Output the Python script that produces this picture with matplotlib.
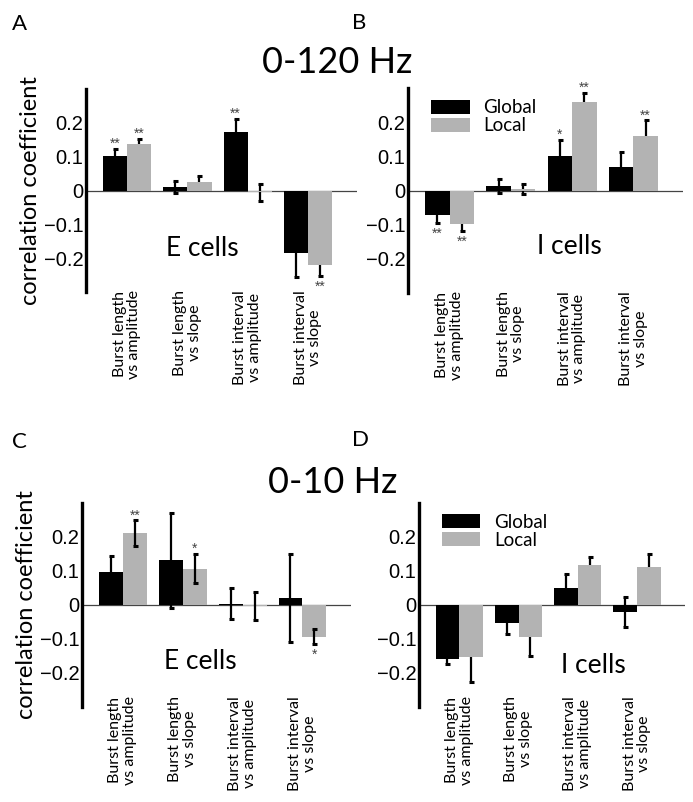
"""Burst feature correlations, global vs local (0-120 Hz and 0-10 Hz)."""

import matplotlib
matplotlib.use("Agg")
import matplotlib.pyplot as plt
import numpy as np

CATEGORIES = ["Burst length\nvs amplitude", "Burst length\nvs slope",
              "Burst interval\nvs amplitude", "Burst interval\nvs slope"]
SERIES = ["Global", "Local"]

# 0-120 Hz, E cells
A_global = [0.101, 0.010, 0.172, -0.186]
A_global_err = [0.022, 0.017, 0.040, 0.070]
A_local = [0.138, 0.026, -0.005, -0.220]
A_local_err = [0.015, 0.016, 0.025, 0.034]
A_global_sig = ["**", "", "**", ""]
A_local_sig = ["**", "", "", "**"]

# 0-120 Hz, I cells
B_global = [-0.071, 0.014, 0.101, 0.069]
B_global_err = [0.025, 0.021, 0.048, 0.043]
B_local = [-0.099, 0.005, 0.259, 0.159]
B_local_err = [0.020, 0.015, 0.027, 0.046]
B_global_sig = ["**", "", "*", ""]
B_local_sig = ["**", "", "**", "**"]

# 0-10 Hz, E cells
C_global = [0.097, 0.131, 0.004, 0.020]
C_global_err = [0.048, 0.141, 0.046, 0.130]
C_local = [0.212, 0.107, -0.003, -0.094]
C_local_err = [0.037, 0.043, 0.041, 0.022]
C_global_sig = ["", "", "", ""]
C_local_sig = ["**", "*", "", "*"]

# 0-10 Hz, I cells
D_global = [-0.158, -0.054, 0.049, -0.020]
D_global_err = [0.015, 0.031, 0.042, 0.044]
D_local = [-0.153, -0.093, 0.117, 0.111]
D_local_err = [0.074, 0.058, 0.023, 0.040]
D_global_sig = ["", "", "", ""]
D_local_sig = ["", "", "", ""]

YTICKS = [-0.2, -0.1, 0, 0.1, 0.2]
YTICKLABELS = ["\u22120.2", "\u22120.1", "0", "0.1", "0.2"]

W, H = 693, 802
SANS = ["Lato", "DejaVu Sans"]
COLORS = ["#000000", "#b3b3b3"]


def px_axes(fig, left, top, right, bottom):
    return fig.add_axes([left / W, 1 - bottom / H, (right - left) / W, (bottom - top) / H])


def panel(ax, glob, glob_err, loc, loc_err, gsig, lsig, cells, cell_xy,
          ylabel=False, legend=None, err_on_top=False, xpad=-1.5):
    x = np.arange(1, len(CATEGORIES) + 1)
    w = 0.4
    ax.axhline(0, color="#444444", lw=0.9, zorder=1)
    ez = 4 if err_on_top else 2
    for i, (vals, errs, sig) in enumerate([(glob, glob_err, gsig), (loc, loc_err, lsig)]):
        xs = x + (i - 0.5) * w
        ax.bar(xs, vals, width=w, color=COLORS[i], label=SERIES[i], zorder=3)
        ax.errorbar(xs, vals, yerr=errs, fmt="none", ecolor="black",
                    elinewidth=1.6, capsize=1.8, capthick=2.2, zorder=ez)
        for xi, v, e, s in zip(xs, vals, errs, sig):
            if not s:
                continue
            dy = 3.5 if v >= 0 else -7.5
            ax.annotate(s, (xi, v + e if v >= 0 else v - e), xytext=(0, dy),
                        textcoords="offset points", ha="center", va="center",
                        fontsize=10, color="#444444", family=["Liberation Sans"])

    ax.set_xlim(0.32, 4.81)
    ax.set_ylim(-0.3, 0.3)
    for s in ("top", "right", "bottom"):
        ax.spines[s].set_visible(False)
    ax.spines["left"].set_linewidth(2.4)
    ax.set_yticks(YTICKS)
    ax.set_yticklabels(YTICKLABELS, family=["Liberation Sans"], fontsize=14.5)
    ax.tick_params(axis="y", length=0, pad=2)
    ax.set_xticks(x)
    ax.set_xticklabels(CATEGORIES, rotation=90, fontsize=11.5, family=SANS,
                       ha="center", va="top", multialignment="center")
    for lbl in ax.get_xticklabels():
        lbl.set_linespacing(1.05)
    ax.tick_params(axis="x", length=0, pad=xpad)
    ax.text(cell_xy[0], cell_xy[1], cells, ha="center", va="baseline",
            fontsize=19, family=SANS)
    if ylabel:
        ax.set_ylabel("correlation coefficient", fontsize=17, family=SANS, labelpad=2)
    if legend is not None:
        ax.legend(loc="upper left", bbox_to_anchor=legend, frameon=False,
                  prop={"family": SANS, "size": 13.5},
                  handlelength=2.05, handleheight=0.8, handletextpad=0.75,
                  labelspacing=0.05, borderpad=0, borderaxespad=0)


def main():
    fig = plt.figure(figsize=(W / 100, H / 100), dpi=100)

    axA = px_axes(fig, 86, 89, 357, 292)
    panel(axA, A_global, A_global_err, A_local, A_local_err, A_global_sig, A_local_sig,
          "E cells", (2.24, -0.194), ylabel=True)
    axB = px_axes(fig, 408, 88, 683, 293)
    panel(axB, B_global, B_global_err, B_local, B_local_err, B_global_sig, B_local_sig,
          "I cells", (2.96, -0.185), legend=(0.084, 0.944))
    axC = px_axes(fig, 82, 503, 351, 707)
    panel(axC, C_global, C_global_err, C_local, C_local_err, C_global_sig, C_local_sig,
          "E cells", (2.3, -0.188), ylabel=True, err_on_top=True, xpad=-8)
    axD = px_axes(fig, 419, 503, 685, 707)
    panel(axD, D_global, D_global_err, D_local, D_local_err, D_global_sig, D_local_sig,
          "I cells", (3.26, -0.2), legend=(0.086, 0.948), xpad=-8)

    for letter, lx, ly in [("A", 12, 30), ("B", 352, 29), ("C", 12, 448), ("D", 352, 446)]:
        fig.text(lx / W, 1 - ly / H, letter, fontsize=16, family=SANS, va="baseline")
    fig.text(337 / W, 1 - 73 / H, "0-120 Hz", fontsize=26, family=SANS,
             ha="center", va="baseline")
    fig.text(333 / W, 1 - 493 / H, "0-10 Hz", fontsize=26, family=SANS,
             ha="center", va="baseline")

    fig.savefig("out.png", dpi=100)


if __name__ == "__main__":
    main()
